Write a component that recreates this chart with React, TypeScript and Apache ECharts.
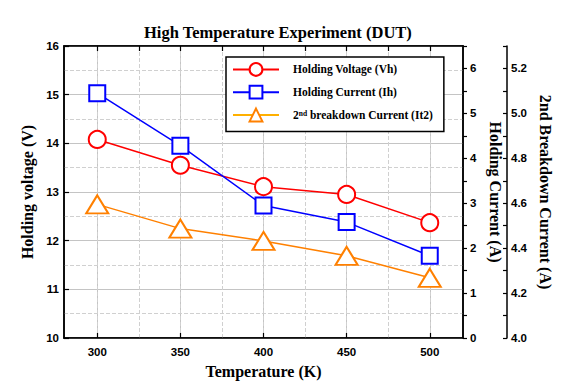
import React, { useEffect, useRef } from "react";
import * as echarts from "echarts";

const temperatures = [300, 350, 400, 450, 500];
const holdingVoltage = [14.08, 13.55, 13.11, 12.95, 12.37];
const holdingCurrent = [5.45, 4.28, 2.95, 2.58, 1.83];
const breakdownCurrent = [4.595, 4.487, 4.432, 4.366, 4.268];
const xMajorTicks = [300, 350, 400, 450, 500];
const xAllTicks = [300, 325, 350, 375, 400, 425, 450, 475, 500];

const NAME_VH = "Holding Voltage (Vh)";
const NAME_IH = "Holding Current (Ih)";
const NAME_IT2 = "2nd breakdown Current (It2)";

const serif = "Liberation Serif";
const sans = "Liberation Sans";

export default function App() {
  const ref = useRef<HTMLDivElement>(null);
  useEffect(() => {
    if (!ref.current) return;
    const chart = echarts.init(ref.current, undefined, { renderer: "svg" });
    const labelStyle = { fontFamily: sans, fontWeight: "bold", fontSize: 11.5, color: "#000" };
    const nameStyle = { fontFamily: serif, fontWeight: "bold", fontSize: 16, color: "#000" };
    const axisLine = { show: true, lineStyle: { color: "#000", width: 1.5 } };
    const tickLine = { color: "#000", width: 1.2 };
    const option: any = {
      animation: false,
      backgroundColor: "#fff",
      title: {
        text: "High Temperature Experiment (DUT)",
        left: 139,
        top: 19,
        textStyle: { fontFamily: serif, fontWeight: "bold", fontSize: 16.5, color: "#000" },
      },
      grid: {
        left: 64,
        right: 102,
        top: 46,
        bottom: 50,
        show: true,
        borderColor: "#000",
        borderWidth: 1.5,
        outerBoundsMode: "none",
      },
      legend: {
        orient: "vertical",
        left: 226,
        top: 57,
        padding: [5, 11, 9, 6],
        itemWidth: 46,
        itemHeight: 16,
        itemGap: 8,
        backgroundColor: "#fff",
        borderColor: "#000",
        borderWidth: 1.5,
        data: [
          { name: NAME_VH },
          { name: NAME_IH },
          { name: NAME_IT2, itemStyle: { borderColor: "#FFB000" }, lineStyle: { color: "#FFB000" } },
        ],
        formatter: (name: string) =>
          name === NAME_IT2 ? "{b|2}{sup|nd}{b| breakdown Current (It2)}" : "{b|" + name + "}",
        textStyle: {
          padding: [0, 0, 0, 9],
          rich: {
            b: { fontFamily: serif, fontWeight: "bold", fontSize: 11.5, color: "#000" },
            sup: { fontFamily: serif, fontWeight: "bold", fontSize: 7.5, color: "#000", verticalAlign: "top" },
          },
        },
      },
      xAxis: [
        {
          type: "value",
          position: "bottom",
          min: 280,
          max: 520,
          name: "Temperature (K)",
          nameLocation: "middle",
          nameGap: 25,
          nameTextStyle: nameStyle,
          axisLine,
          axisTick: { show: true, inside: true, length: 5, customValues: xMajorTicks, lineStyle: tickLine },
          axisLabel: { customValues: xMajorTicks, margin: 8, ...labelStyle },
          splitLine: { show: true, lineStyle: { color: "#c4c4c4", width: 1 } },
        },
        {
          type: "value",
          position: "top",
          min: 280,
          max: 520,
          axisLine,
          axisTick: { show: true, inside: true, length: 5, customValues: xAllTicks, lineStyle: tickLine },
          axisLabel: { show: false },
          splitLine: { show: true, lineStyle: { color: "#d0d0d0", width: 1, type: "dashed" } },
        },
      ],
      yAxis: [
        {
          type: "value",
          position: "left",
          min: 10,
          max: 16,
          interval: 1,
          name: "Holding voltage (V)",
          nameLocation: "middle",
          nameGap: 24,
          nameTextStyle: nameStyle,
          axisLine,
          axisTick: { show: true, inside: true, length: 5, lineStyle: tickLine },
          axisLabel: { margin: 5, ...labelStyle },
          splitLine: { show: true, lineStyle: { color: "#c4c4c4", width: 1 } },
          minorSplitLine: { show: true, lineStyle: { color: "#d0d0d0", width: 1, type: "dashed" } },
          minorTick: { show: false, splitNumber: 2 },
        },
        {
          type: "value",
          position: "right",
          min: 0,
          max: 6.5,
          interval: 0.5,
          name: "Holding Current (A)",
          nameLocation: "middle",
          nameRotate: -90,
          nameGap: 18,
          nameTextStyle: nameStyle,
          axisLine,
          axisTick: { show: true, inside: false, length: 4, lineStyle: tickLine },
          axisLabel: {
            margin: 7,
            ...labelStyle,
            formatter: (v: number) => (Math.abs(v - Math.round(v)) < 1e-6 ? String(Math.round(v)) : ""),
          },
          splitLine: { show: false },
        },
        {
          type: "value",
          position: "right",
          offset: 44,
          min: 4.0,
          max: 5.3,
          interval: 0.1,
          name: "2nd Breakdown Current (A)",
          nameLocation: "middle",
          nameRotate: -90,
          nameGap: 27,
          nameTextStyle: nameStyle,
          axisLine,
          axisTick: { show: true, inside: true, length: 4, lineStyle: tickLine },
          axisLabel: {
            margin: 4,
            ...labelStyle,
            formatter: (v: number) => (Math.round(v * 10) % 2 === 0 ? v.toFixed(1) : ""),
          },
          splitLine: { show: false },
        },
      ],
      series: [
        {
          name: NAME_VH,
          type: "line",
          xAxisIndex: 0,
          yAxisIndex: 0,
          data: temperatures.map((t, i) => [t, holdingVoltage[i]]),
          symbol: "emptyCircle",
          symbolSize: 17,
          color: "#ff0000",
          lineStyle: { color: "#ff0000", width: 1.5 },
          itemStyle: { color: "#ff0000", borderWidth: 2.5 },
          z: 3,
        },
        {
          name: NAME_IH,
          type: "line",
          xAxisIndex: 0,
          yAxisIndex: 1,
          data: temperatures.map((t, i) => [t, holdingCurrent[i]]),
          symbol: "emptyRect",
          symbolSize: 16,
          color: "#0000ff",
          lineStyle: { color: "#0000ff", width: 1.5 },
          itemStyle: { color: "#0000ff", borderWidth: 2.5 },
          z: 3,
        },
        {
          name: NAME_IT2,
          type: "line",
          xAxisIndex: 0,
          yAxisIndex: 2,
          data: temperatures.map((t, i) => [t, breakdownCurrent[i]]),
          symbol: "emptyTriangle",
          symbolSize: [22, 18],
          color: "#ff8000",
          lineStyle: { color: "#ff8000", width: 1.5 },
          itemStyle: { color: "#ff8000", borderWidth: 2.5 },
          z: 3,
        },
      ],
    };
    chart.setOption(option);
    return () => chart.dispose();
  }, []);
  return (
    <div
      ref={ref}
      style={{ position: "absolute", left: 0, top: 0, width: 565, height: 388 }}
    />
  );
}
